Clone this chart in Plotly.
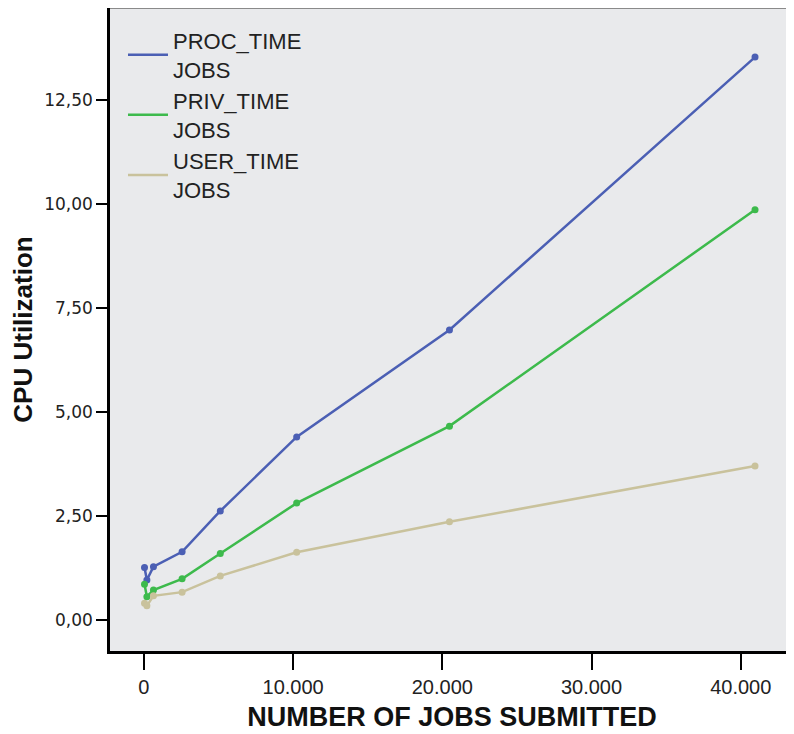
import plotly.graph_objects as go

jobs = [40, 200, 640, 2560, 5120, 10240, 20480, 40960]
proc_time = [1.26, 0.96, 1.28, 1.64, 2.62, 4.40, 6.97, 13.53]
priv_time = [0.86, 0.56, 0.72, 0.99, 1.60, 2.81, 4.66, 9.86]
user_time = [0.40, 0.34, 0.58, 0.67, 1.06, 1.63, 2.36, 3.70]

series_names = ["PROC_TIME<br>JOBS", "PRIV_TIME<br>JOBS", "USER_TIME<br>JOBS"]
series_colors = ["#4b5fb4", "#3dba4c", "#c9c29c"]

x_tickvals = [0, 10000, 20000, 30000, 40000]
x_ticktext = ["0", "10.000", "20.000", "30.000", "40.000"]
y_tickvals = [0, 2.5, 5, 7.5, 10, 12.5]
y_ticktext = ["0,00", "2,50", "5,00", "7,50", "10,00", "12,50"]

fig = go.Figure()
for name, vals, col in zip(series_names, [proc_time, priv_time, user_time], series_colors):
    fig.add_trace(go.Scatter(
        x=jobs, y=vals, name=name, mode="lines+markers",
        line=dict(color=col, width=2.5),
        marker=dict(color=col, size=7),
        showlegend=False,
    ))
# legend entries (line only, like the reference)
for name, col in zip(series_names, series_colors):
    fig.add_trace(go.Scatter(
        x=[None], y=[None], name=name, mode="lines",
        line=dict(color=col, width=2.5), showlegend=True,
    ))

fig.update_layout(
    width=786, height=726,
    margin=dict(l=102, r=0, t=0, b=83),
    paper_bgcolor="white",
    plot_bgcolor="#e9eaec",
    font=dict(family="Liberation Sans, Arial, sans-serif", color="#222"),
    showlegend=True,
    legend=dict(
        x=0.019, y=0.982, xanchor="left", yanchor="top",
        bgcolor="rgba(0,0,0,0)",
        font=dict(size=22, color="#222", family="Liberation Sans, Arial, sans-serif"),
        tracegroupgap=2, itemwidth=40,
    ),
    xaxis=dict(
        range=[-2272, 43572],
        tickvals=x_tickvals, ticktext=x_ticktext,
        showgrid=False, zeroline=False,
        showline=True, linecolor="black", linewidth=2.5,
        ticks="outside", ticklen=16, tickwidth=2, tickcolor="black",
        tickfont=dict(size=20, color="#222"),
        title=dict(text="<b>NUMBER OF JOBS SUBMITTED</b>",
                   font=dict(size=27, color="#111"), standoff=11),
    ),
    yaxis=dict(
        range=[-0.745, 14.71],
        tickvals=y_tickvals, ticktext=y_ticktext,
        showgrid=False, zeroline=False,
        showline=True, linecolor="black", linewidth=2.5,
        ticks="outside", ticklen=11, tickwidth=2, tickcolor="black",
        tickfont=dict(size=17, color="#222", family="DejaVu Sans, sans-serif"),
        title=dict(text="<b>CPU Utilization</b>",
                   font=dict(size=26, color="#111"), standoff=8),
    ),
    shapes=[dict(type="line", xref="paper", yref="paper", x0=0, x1=1, y0=1, y1=1,
                 line=dict(color="#8a8a8a", width=2))],
)

fig.write_html("out.html")
